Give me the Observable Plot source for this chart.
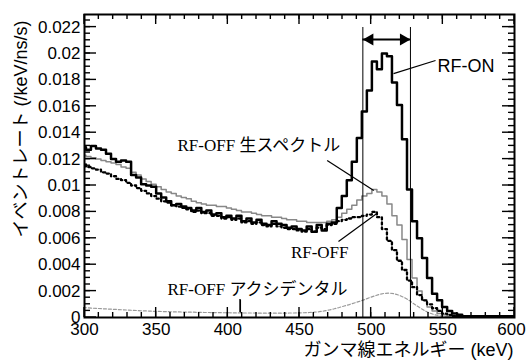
<!DOCTYPE html>
<html><head><meta charset="utf-8">
<script src="https://cdn.jsdelivr.net/npm/d3@7"></script>
<script src="https://cdn.jsdelivr.net/npm/@observablehq/plot@0.6"></script>
<style>body{margin:0;background:#fff;}</style>
</head><body><div id="chart"></div>
<script>
// Histogram binning (keV)
const binStart = 297.5;
const binWidth = 3.5;

// RF-ON (thick black)
const rfOn = [
  0.0129, 0.0127, 0.0130, 0.0128, 0.0127, 0.0124, 0.0120, 0.0118, 0.0119, 0.0118,
  0.0108, 0.0106, 0.0101, 0.0100, 0.0099, 0.0094, 0.0091, 0.0088, 0.0085, 0.0086,
  0.0084, 0.0083, 0.0081, 0.0083, 0.0080, 0.0081, 0.0078, 0.0079, 0.0076, 0.0077,
  0.0075, 0.0077, 0.0073, 0.0075, 0.0072, 0.0074, 0.0071, 0.0070, 0.0073, 0.0071,
  0.0070, 0.0068, 0.0069, 0.0067, 0.0066, 0.0069, 0.0065, 0.0070, 0.0066, 0.0071,
  0.0072, 0.0083, 0.0092, 0.0104, 0.0118, 0.0136, 0.0156, 0.0172, 0.0194, 0.0188,
  0.0200, 0.0198, 0.0178, 0.0161, 0.0135, 0.0097, 0.0073, 0.0060, 0.0045, 0.0030,
  0.0018, 0.0013, 0.0008, 0.0005, 0.0003, 0.0002, 0.0001, 0.0001, 0.0001, 0.0001,
  0.0001, 0.0001, 0.0001, 0.0001, 0.0001, 0.0001, 0.0001
];
// RF-OFF raw spectrum (gray)
const rfOffRaw = [
  0.0123, 0.0122, 0.0121, 0.0120, 0.0119, 0.0118, 0.0117, 0.0116, 0.0114, 0.0113,
  0.0110, 0.0108, 0.0105, 0.0103, 0.0101, 0.0099, 0.0097, 0.0095, 0.0094, 0.0092,
  0.0091, 0.0090, 0.0088, 0.0087, 0.0086, 0.0085, 0.0085, 0.0084, 0.0084, 0.0083,
  0.0082, 0.0081, 0.0080, 0.0080, 0.0079, 0.0078, 0.0077, 0.0077, 0.0076, 0.0076,
  0.0075, 0.0074, 0.0074, 0.0073, 0.0073, 0.0072, 0.0072, 0.0072, 0.0072, 0.0073,
  0.0074, 0.0076, 0.0079, 0.0082, 0.0085, 0.0089, 0.0092, 0.0094, 0.0097, 0.0095,
  0.0092, 0.0086, 0.0077, 0.0070, 0.0059, 0.0044, 0.0030, 0.0020, 0.0013, 0.0008,
  0.0005, 0.0003, 0.0002, 0.0001, 0.0001, 0.0001, 0.0001, 0.0001, 0.0001, 0.0001,
  0.0001, 0.0001, 0.0001, 0.0001, 0.0001, 0.0001, 0.0001
];
// RF-OFF (black dotted)
const rfOff = [
  0.0116, 0.0114, 0.0113, 0.0112, 0.0110, 0.0109, 0.0107, 0.0105, 0.0104, 0.0102,
  0.0100, 0.0098, 0.0096, 0.0094, 0.0092, 0.0090, 0.0088, 0.0087, 0.0085, 0.0084,
  0.0083, 0.0082, 0.0080, 0.0081, 0.0079, 0.0079, 0.0077, 0.0077, 0.0075, 0.0076,
  0.0074, 0.0075, 0.0072, 0.0073, 0.0071, 0.0072, 0.0070, 0.0069, 0.0071, 0.0069,
  0.0068, 0.0067, 0.0067, 0.0066, 0.0065, 0.0067, 0.0065, 0.0068, 0.0067, 0.0070,
  0.0071, 0.0073, 0.0074, 0.0075, 0.0076, 0.0076, 0.0077, 0.0078, 0.0080, 0.0076,
  0.0067, 0.0058, 0.0051, 0.0043, 0.0036, 0.0028, 0.0023, 0.0017, 0.0013, 0.0010,
  0.0007, 0.0005, 0.0003, 0.0002, 0.0001, 0.0001, 0.0001, 0.0001, 0.0001, 0.0001,
  0.0001, 0.0001, 0.0001, 0.0001, 0.0001, 0.0001, 0.0001
];
// RF-OFF accidental (gray dotted)
const rfOffAcc = [
  0.00075, 0.00073, 0.00070, 0.00068, 0.00066, 0.00064, 0.00062, 0.00060, 0.00058, 0.00056,
  0.00054, 0.00052, 0.00050, 0.00049, 0.00047, 0.00046, 0.00045, 0.00044, 0.00043, 0.00042,
  0.00041, 0.00040, 0.00040, 0.00039, 0.00038, 0.00038, 0.00037, 0.00037, 0.00036, 0.00036,
  0.00035, 0.00035, 0.00034, 0.00034, 0.00034, 0.00033, 0.00033, 0.00033, 0.00033, 0.00033,
  0.00033, 0.00034, 0.00034, 0.00035, 0.00036, 0.00038, 0.00040, 0.00044, 0.00050, 0.00057,
  0.00066, 0.00076, 0.00087, 0.00098, 0.00110, 0.00122, 0.00135, 0.00150, 0.00163, 0.00175,
  0.00183, 0.00185, 0.00180, 0.00168, 0.00150, 0.00128, 0.00100, 0.00075, 0.00052, 0.00034,
  0.00021, 0.00013, 0.00008, 0.00005, 0.00004, 0.00003, 0.00003, 0.00003, 0.00003, 0.00003,
  0.00003, 0.00003, 0.00003, 0.00003, 0.00003, 0.00003, 0.00003
];

// Axis ticks
const xTicks = [300, 350, 400, 450, 500, 550, 600];
const xMinorTicks = d3.range(310, 600, 10);
const yTicks = [0, 0.002, 0.004, 0.006, 0.008, 0.01, 0.012, 0.014, 0.016, 0.018, 0.02, 0.022];
const yMinorTicks = d3.range(0.0005, 0.0229, 0.0005);

const xDomain = [300, 600];
const yDomain = [0, 0.022955];

// Window (keV) and arrow
const windowEdges = [494.2, 527.4];
const windowTop = 0.02197;
const arrowY = 0.02106;

// Annotations
const xTitle = "ガンマ線エネルギー (keV)";
const yTitle = "イベントレート (/keV/ns/s)";
const labelOn = {text: "RF-ON", x: 546.3, y: 0.01902};
const labelRaw = {text: "RF-OFF 生スペクトル", x: 364.9, y: 0.01303};
const labelOff = {text: "RF-OFF", x: 484.2, y: 0.00492};
const labelAcc = {text: "RF-OFF アクシデンタル", x: 357.9, y: 0.00212};
const pointers = [
  {x1: 544.9, y1: 0.01947, x2: 515.6, y2: 0.01848},
  {x1: 469.3, y1: 0.01189, x2: 501.8, y2: 0.00962},
  {x1: 477.2, y1: 0.00576, x2: 504.2, y2: 0.00790},
  {x1: 408.8, y1: 0.00136, x2: 408.8, y2: 0.00038}
];

function stepData(vals) {
  const d = vals.map((v, i) => ({x: binStart + i * binWidth, y: v}));
  d.push({x: binStart + vals.length * binWidth, y: vals[vals.length - 1]});
  return d;
}
function centerData(vals) {
  return vals.map((v, i) => ({x: binStart + (i + 0.5) * binWidth, y: v}));
}

const serif = "'Liberation Serif', 'Times New Roman', 'Noto Sans CJK JP', serif";
const sans = "'Liberation Sans', Arial, 'Noto Sans CJK JP', sans-serif";

const chart = Plot.plot({
  width: 526, height: 360,
  marginLeft: 84, marginRight: 12, marginTop: 14, marginBottom: 43,
  x: {domain: xDomain},
  y: {domain: yDomain},
  axis: null,
  style: {fontFamily: sans, fontSize: "17px", background: "white", color: "black"},
  marks: [
    Plot.line(centerData(rfOffAcc), {x: "x", y: "y", stroke: "#999", strokeWidth: 1.2, strokeDasharray: "3,2", clip: true}),
    Plot.line(stepData(rfOffRaw), {x: "x", y: "y", curve: "step-after", stroke: "#888", strokeWidth: 1.5, clip: true}),
    Plot.line(stepData(rfOff), {x: "x", y: "y", curve: "step-after", stroke: "black", strokeWidth: 2.3, strokeDasharray: "2.2,2.8", clip: true}),
    Plot.line(stepData(rfOn), {x: "x", y: "y", curve: "step-after", stroke: "black", strokeWidth: 2.5, clip: true}),
    Plot.ruleX(windowEdges, {y1: 0, y2: windowTop, stroke: "black", strokeWidth: 1}),
    Plot.ruleY([arrowY], {x1: windowEdges[0], x2: windowEdges[1], stroke: "black", strokeWidth: 1.8}),
    Plot.dot([windowEdges[0]], {x: d => d, y: () => arrowY, symbol: "triangle", r: 4.5, rotate: -90, fill: "black", stroke: null, dx: 7}),
    Plot.dot([windowEdges[1]], {x: d => d, y: () => arrowY, symbol: "triangle", r: 4.5, rotate: 90, fill: "black", stroke: null, dx: -7}),
    Plot.link(pointers, {x1: "x1", y1: "y1", x2: "x2", y2: "y2", stroke: "black", strokeWidth: 1.2}),
    Plot.text([labelOn], {x: "x", y: "y", text: "text", textAnchor: "start", fontFamily: sans, fontSize: 18}),
    Plot.text([labelRaw], {x: "x", y: "y", text: "text", textAnchor: "start", fontFamily: serif, fontSize: 17}),
    Plot.text([labelOff], {x: "x", y: "y", text: "text", textAnchor: "end", fontFamily: serif, fontSize: 17}),
    Plot.text([labelAcc], {x: "x", y: "y", text: "text", textAnchor: "start", fontFamily: serif, fontSize: 17}),
    Plot.text([yTitle], {frameAnchor: "top-left", rotate: -90, textAnchor: "end", lineAnchor: "middle", dx: -63, dy: 6, fontSize: 18, fontFamily: sans}),
    Plot.text([xTitle], {frameAnchor: "bottom-right", textAnchor: "end", lineAnchor: "middle", dx: -1, dy: 33, fontSize: 18, fontFamily: sans}),
    Plot.frame({stroke: "black", strokeWidth: 2}),
    // tick labels
    Plot.axisX({anchor: "bottom", ticks: xTicks.slice(0, -1), tickSize: 0, tickPadding: 5, tickFormat: d => String(d), label: null, fontSize: 17}),
    Plot.axisX({anchor: "bottom", ticks: xTicks.slice(-1), tickSize: 0, tickPadding: 5, dx: -3, tickFormat: d => String(d), label: null, fontSize: 17}),
    Plot.axisY({anchor: "left", ticks: yTicks, tickSize: 0, tickPadding: 4, tickFormat: d => String(d), label: null, fontSize: 17})
  ]
});
document.getElementById("chart").appendChild(chart);

// Inward tick marks on all four sides, placed with the plot's own scales
const sx = chart.scale("x"), sy = chart.scale("y");
const xL = sx.apply(xDomain[0]), xR = sx.apply(xDomain[1]);
const yB = sy.apply(yDomain[0]), yT = sy.apply(yDomain[1]);
const tg = d3.select(chart).append("g").attr("stroke", "black").attr("stroke-width", 1.4).attr("fill", "none");
function xTick(v, len) {
  const px = sx.apply(v);
  tg.append("line").attr("x1", px).attr("x2", px).attr("y1", yB).attr("y2", yB - len);
  tg.append("line").attr("x1", px).attr("x2", px).attr("y1", yT).attr("y2", yT + len);
}
function yTick(v, len) {
  const py = sy.apply(v);
  tg.append("line").attr("x1", xL).attr("x2", xL + len).attr("y1", py).attr("y2", py);
  tg.append("line").attr("x1", xR).attr("x2", xR - len).attr("y1", py).attr("y2", py);
}
xMinorTicks.forEach(v => xTick(v, 5));
xTicks.forEach(v => xTick(v, 10));
yMinorTicks.forEach(v => yTick(v, 6));
yTicks.forEach(v => yTick(v, 12));
// short pointer below the accidental label
const p = pointers[3];
tg.append("line").attr("x1", sx.apply(p.x1)).attr("x2", sx.apply(p.x2)).attr("y1", sy.apply(p.y1)).attr("y2", sy.apply(p.y2)).attr("stroke-width", 1.2);
</script>
</body></html>
